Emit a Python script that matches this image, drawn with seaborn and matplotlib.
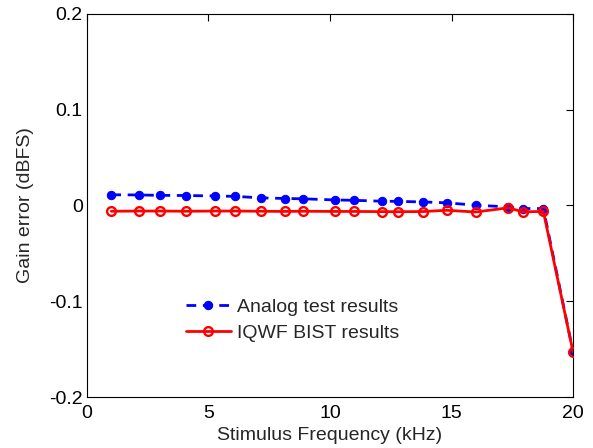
import matplotlib
matplotlib.use("Agg")
import matplotlib.pyplot as plt
import numpy as np
import seaborn as sns

sns.set_theme(style="white")
plt.rcParams['font.family'] = ['Liberation Sans', 'DejaVu Sans']

# Stimulus frequencies (kHz) and gain errors (dBFS)
freq = [1.0, 2.15, 3.0, 4.07, 5.27, 6.1, 7.16, 8.15, 8.88, 10.2,
        11.0, 12.13, 12.8, 13.84, 14.8, 16.0, 17.34, 17.93, 18.78, 20.0]
analog = [0.0112, 0.0110, 0.0106, 0.0104, 0.0100, 0.0095, 0.0080, 0.0073, 0.0070, 0.0058,
          0.0054, 0.0045, 0.0043, 0.0037, 0.0028, 0.0003, -0.0015, -0.0032, -0.0032, -0.1527]
bist = [-0.0060, -0.0058, -0.0058, -0.0060, -0.0058, -0.0058, -0.0060, -0.0062, -0.0060, -0.0062,
        -0.0062, -0.0064, -0.0065, -0.0063, -0.0050, -0.0068, -0.0024, -0.0066, -0.0062, -0.1527]

fig = plt.figure(figsize=(5.93, 4.48), dpi=100)
ax = fig.add_axes([0.1467, 0.1138, 0.8196, 0.855])

sns.lineplot(x=freq, y=analog, ax=ax, color='blue', linestyle=(0, (3.5, 2.4)), linewidth=2,
             marker='o', markersize=6, markeredgecolor='blue', markerfacecolor='blue',
             label='Analog test results', zorder=2)
sns.lineplot(x=freq, y=bist, ax=ax, color='red', linestyle='-', linewidth=2,
             marker='o', markersize=6.3, markeredgewidth=1.7, markeredgecolor='red',
             markerfacecolor='none', label='IQWF BIST results', zorder=3)

ax.set_xlim(0, 20)
ax.set_ylim(-0.2, 0.2)
ax.set_xticks([0, 5, 10, 15, 20])
ax.set_yticks([-0.2, -0.1, 0, 0.1, 0.2])
ax.set_yticklabels(['-0.2', '-0.1', '0', '0.1', '0.2'])
ax.tick_params(direction='in', length=5, width=0.8, labelsize=14, top=True, right=True,
               colors='black', pad=3)
ax.tick_params(axis='x', pad=6)
for s in ax.spines.values():
    s.set_color('black')
    s.set_linewidth(0.8)
ax.set_xlabel('Stimulus Frequency (kHz)', fontsize=14, labelpad=3)
ax.set_ylabel('Gain error (dBFS)', fontsize=14, labelpad=11)

ax.legend(loc='upper left', bbox_to_anchor=(0.2037, 0.258), frameon=False, fontsize=14,
          borderpad=0, borderaxespad=0, handlelength=2.3, handletextpad=0.3,
          labelspacing=0.45)

fig.savefig('out.png', dpi=100)
